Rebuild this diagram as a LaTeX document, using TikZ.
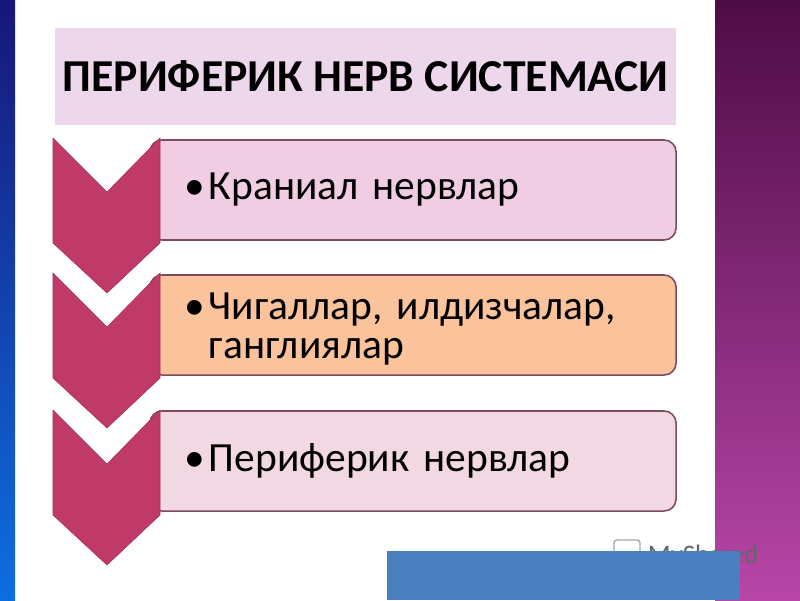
\documentclass[tikz,border=0pt]{standalone}
\usepackage{fontspec}
\setmainfont{Carlito}
\definecolor{NavyTop}{RGB}{24,22,120}
\definecolor{NavyBot}{RGB}{14,110,225}
\definecolor{PlumTop}{RGB}{78,12,70}
\definecolor{PlumBot}{RGB}{184,70,168}
\definecolor{BandPink}{RGB}{236,216,234}
\definecolor{ChevRed}{RGB}{192,58,104}
\definecolor{BoxEdge}{RGB}{125,75,95}
\definecolor{BoxPink}{RGB}{240,205,226}
\definecolor{BoxPeach}{RGB}{250,195,155}
\definecolor{BoxRose}{RGB}{242,216,226}
\definecolor{BarBlue}{RGB}{74,128,192}
\newcommand{\bul}[1]{\makebox[0.6cm][l]{\textbullet}%
  \parbox[t]{10.7cm}{\fontsize{29.5}{28}\selectfont\raggedright #1}}

\begin{document}
\begin{tikzpicture}[x=0.025cm,y=-0.025cm,
  band/.style={fill=BandPink,minimum width=15.525cm,minimum height=2.425cm,
               inner sep=0pt,font=\fontsize{32.5}{36}\selectfont\bfseries},
  itembox/.style={draw=BoxEdge,line width=1.1pt,rounded corners=0.3cm,
                  minimum width=13.15cm,minimum height=2.5cm,inner xsep=0.875cm,
                  inner ysep=0pt,text width=11.4cm,align=left,
                  font=\fontsize{29.5}{28}\selectfont},
  chevron/.style={fill=ChevRed,draw=ChevRed!85!black,line width=0.4pt},
]
\useasboundingbox (0,0) rectangle (800,600);
% side strips
\shade[top color=NavyTop,bottom color=NavyBot] (0,0) rectangle (15,600);
\shade[top color=PlumTop,bottom color=PlumBot] (715,0) rectangle (800,600);
% title
\node[band] (title) at (365.5,76.5) {ПЕРИФЕРИК НЕРВ СИСТЕМАСИ};
% items
\node[itembox,fill=BoxPink] (cranial) at (413,190) {\bul{Краниал нервлар}};
\node[itembox,fill=BoxPeach] (ganglia) at (413,325)
  {\bul{\rule{0pt}{25pt}Чигаллар, илдизчалар,\\ганглиялар}};
\node[itembox,fill=BoxRose] (periph) at (413,461) {\bul{Периферик нервлар}};
% chevrons
\foreach \y in {138,273,410}
  \filldraw[chevron] (53,\y) -- (107,\y+54) -- (160,\y) -- (160,\y+105)
    -- (107,\y+155) -- (53,\y+105) -- cycle;
% watermark and bottom bar
\draw[gray!70,line width=1pt,rounded corners=2pt] (614,540) rectangle (640,560);
\node[gray!80!black,anchor=base west,font=\fontsize{19}{20}\selectfont]
  (mark) at (643,563) {MyShared};
\fill[BarBlue] (387,551) rectangle (740,600);
\end{tikzpicture}
\end{document}
